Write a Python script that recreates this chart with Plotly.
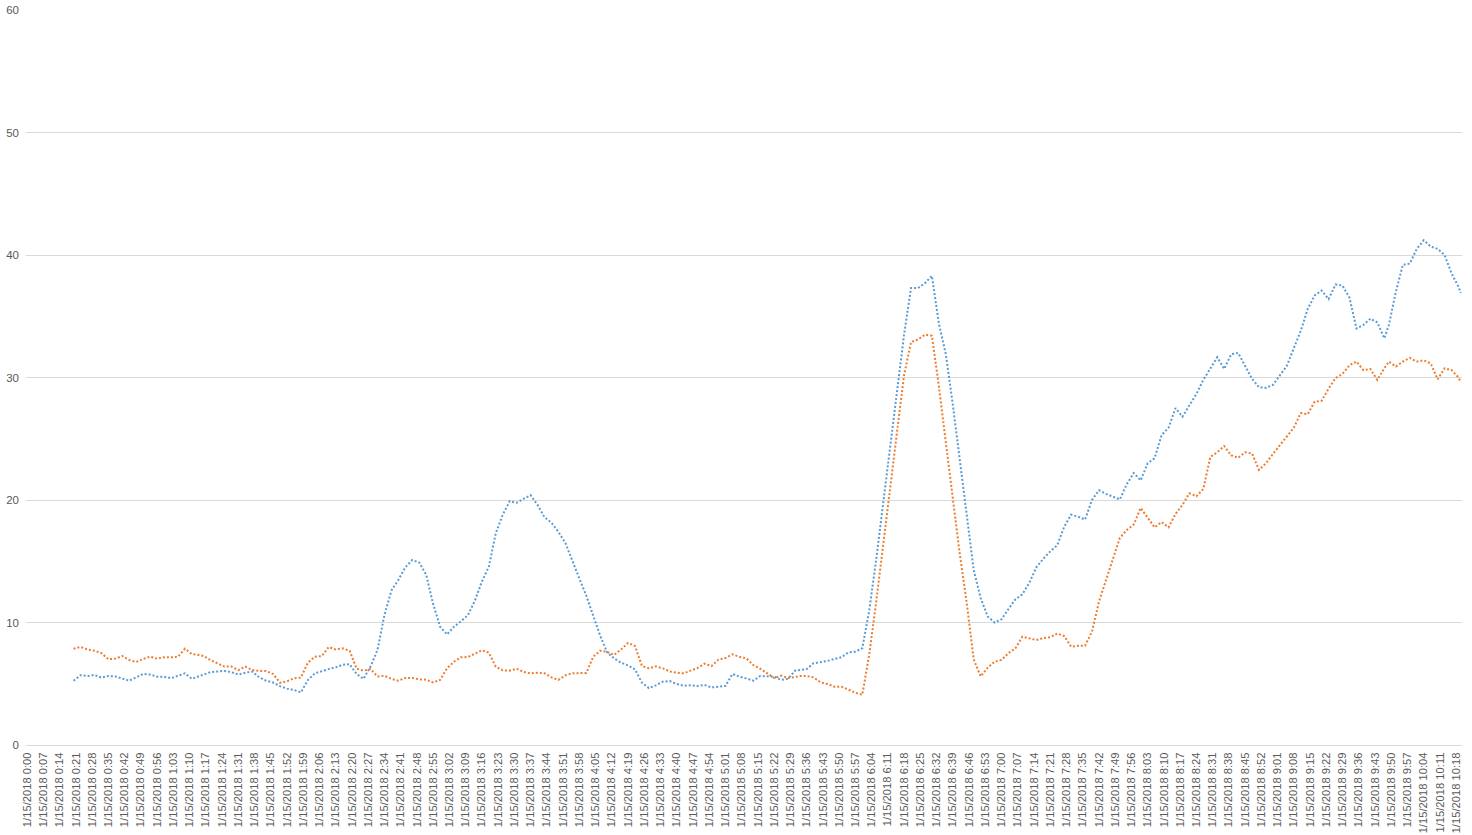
import plotly.graph_objects as go

# ---- categories (one per logged minute; two minutes missing before 9:01) ----
n_categories = 619
def minute_of(i):
    return i if i <= 535 else i + 2
time_labels = ["1/15/2018 %d:%02d" % divmod(minute_of(i), 60) for i in range(n_categories)]
tick_index = list(range(0, 617, 7))
tick_text = [time_labels[i] for i in tick_index]

# ---- sample positions (category index) ----
sample_idx = (list(range(20, 75, 3)) + list(range(76, 332, 3)) +
              list(range(333, 586, 3)) + list(range(587, 615, 3)) + [617, 618])

series_blue = [
    5.25, 5.7, 5.63, 5.72, 5.5, 5.63, 5.6, 5.4, 5.25, 5.52,
    5.8, 5.75, 5.58, 5.58, 5.45, 5.65, 5.85, 5.4, 5.6, 5.7,
    5.95, 6.0, 6.05, 5.95, 5.75, 5.9, 6.0, 5.52, 5.25, 5.1,
    4.8, 4.6, 4.5, 4.3, 5.3, 5.85, 6.05, 6.2, 6.34, 6.55,
    6.6, 5.8, 5.4, 6.4, 7.75, 10.6, 12.6, 13.47, 14.5, 15.1,
    14.9, 13.9, 11.5, 9.66, 9.03, 9.66, 10.1, 10.6, 11.78, 13.33,
    14.56, 17.28, 18.8, 19.9, 19.78, 20.1, 20.4, 19.6, 18.6, 18.15,
    17.4, 16.5, 15.0, 13.6, 12.2, 10.5, 8.92, 7.56, 7.07, 6.72,
    6.5, 6.17, 5.09, 4.65, 4.87, 5.17, 5.22, 4.98, 4.84, 4.87,
    4.82, 4.9, 4.7, 4.76, 4.82, 5.8, 5.58, 5.44, 5.25, 5.63,
    5.63, 5.58, 5.31, 5.41, 6.07, 6.1, 6.2, 6.67, 6.75, 6.86,
    7.02, 7.16, 7.56, 7.62, 7.9, 11.0, 15.15, 19.7, 24.3, 28.9,
    33.5, 37.3, 37.3, 37.7, 38.3, 34.4, 31.9, 27.8, 23.2, 18.64,
    14.3, 12.0, 10.5, 10.0, 10.26, 11.1, 11.9, 12.3, 13.25, 14.5,
    15.2, 15.8, 16.3, 17.8, 18.8, 18.64, 18.4, 20.0, 20.8, 20.5,
    20.27, 20.05, 21.3, 22.2, 21.6, 23.0, 23.4, 25.3, 25.9, 27.5,
    26.8, 27.75, 28.65, 29.8, 30.75, 31.65, 30.7, 31.9, 32.0, 30.9,
    29.9, 29.2, 29.15, 29.4, 30.2, 30.95, 32.4, 33.8, 35.6, 36.7,
    37.1, 36.4, 37.6, 37.5, 36.5, 34.0, 34.3, 34.8, 34.5, 33.2,
    34.3, 37.0, 39.2, 39.3, 40.5, 41.2, 40.7, 40.5, 40.0, 38.5,
    37.4, 36.9,
]

series_orange = [
    7.85, 8.0, 7.8, 7.7, 7.5, 7.0, 7.05, 7.26, 6.94, 6.78,
    7.02, 7.21, 7.05, 7.16, 7.16, 7.2, 7.86, 7.43, 7.35, 7.26,
    6.94, 6.7, 6.4, 6.4, 6.12, 6.4, 6.12, 6.04, 6.04, 5.8,
    5.08, 5.2, 5.44, 5.5, 6.72, 7.21, 7.26, 8.0, 7.8, 7.89,
    7.7, 6.23, 6.07, 6.2, 5.6, 5.65, 5.4, 5.25, 5.47, 5.47,
    5.36, 5.33, 5.11, 5.31, 6.26, 6.8, 7.16, 7.18, 7.48, 7.73,
    7.54, 6.39, 6.1, 6.07, 6.23, 5.96, 5.85, 5.9, 5.85, 5.52,
    5.31, 5.69, 5.85, 5.85, 5.88, 7.2, 7.7, 7.6, 7.35, 7.8,
    8.33, 8.08, 6.45, 6.26, 6.42, 6.26, 6.0, 5.9, 5.85, 6.07,
    6.29, 6.64, 6.45, 6.97, 7.1, 7.4, 7.2, 7.07, 6.53, 6.23,
    5.85, 5.47, 5.66, 5.47, 5.55, 5.63, 5.63, 5.52, 5.11, 4.98,
    4.76, 4.76, 4.52, 4.27, 4.1, 7.4, 11.7, 16.2, 21.0, 25.6,
    30.2, 32.9, 33.1, 33.5, 33.4, 29.3, 24.7, 20.2, 15.6, 11.6,
    7.0, 5.6, 6.3, 6.8, 6.95, 7.5, 7.9, 8.84, 8.73, 8.57,
    8.73, 8.79, 9.1, 8.9, 8.03, 8.1, 8.1, 9.25, 11.7, 13.5,
    15.1, 16.9, 17.55, 18.0, 19.35, 18.6, 17.77, 18.2, 17.77, 18.86,
    19.6, 20.55, 20.3, 20.9, 23.5, 23.9, 24.4, 23.65, 23.45, 23.9,
    23.8, 22.45, 23.0, 23.76, 24.5, 25.2, 25.9, 27.1, 27.0, 28.03,
    28.1, 29.1, 29.95, 30.3, 31.0, 31.3, 30.6, 30.7, 29.8, 30.75,
    31.3, 30.9, 31.3, 31.6, 31.3, 31.4, 31.15, 29.85, 30.75, 30.6,
    30.0, 29.6,
]

y_ticks = [0, 10, 20, 30, 40, 50, 60]

BLUE = "#5B9BD5"
ORANGE = "#ED7D31"
GRID = "#D9D9D9"
TXT = "#595959"

fig = go.Figure()
fig.add_trace(go.Scatter(x=sample_idx, y=series_blue, mode="lines",
                         line=dict(color=BLUE, width=2, dash="2px,2px"),
                         hoverinfo="y", showlegend=False))
fig.add_trace(go.Scatter(x=sample_idx, y=series_orange, mode="lines",
                         line=dict(color=ORANGE, width=2, dash="2px,2px"),
                         hoverinfo="y", showlegend=False))

fig.update_layout(
    width=1472, height=835,
    margin=dict(l=26, r=10, t=10, b=90),
    paper_bgcolor="white", plot_bgcolor="white",
    font=dict(family="Liberation Sans, Arial, sans-serif", size=11, color=TXT),
    showlegend=False,
)
fig.update_xaxes(
    range=[-0.5, n_categories - 0.5], automargin=False,
    tickmode="array", tickvals=tick_index, ticktext=tick_text,
    tickangle=-90, showgrid=False, zeroline=False,
    showline=True, linecolor=GRID, linewidth=1,
    ticks="", tickfont=dict(size=11.2, color=TXT),
    ticklabelstandoff=2,
)
fig.update_yaxes(
    range=[0, 60], automargin=False, tickmode="array", tickvals=y_ticks,
    showgrid=True, gridcolor=GRID, gridwidth=1, zeroline=False,
    showline=False, ticks="", tickfont=dict(size=11.5, color=TXT),
    ticklabelstandoff=6,
)

fig.write_html("out.html", config={"displayModeBar": False},
               post_script="document.body.style.margin='0px';")
